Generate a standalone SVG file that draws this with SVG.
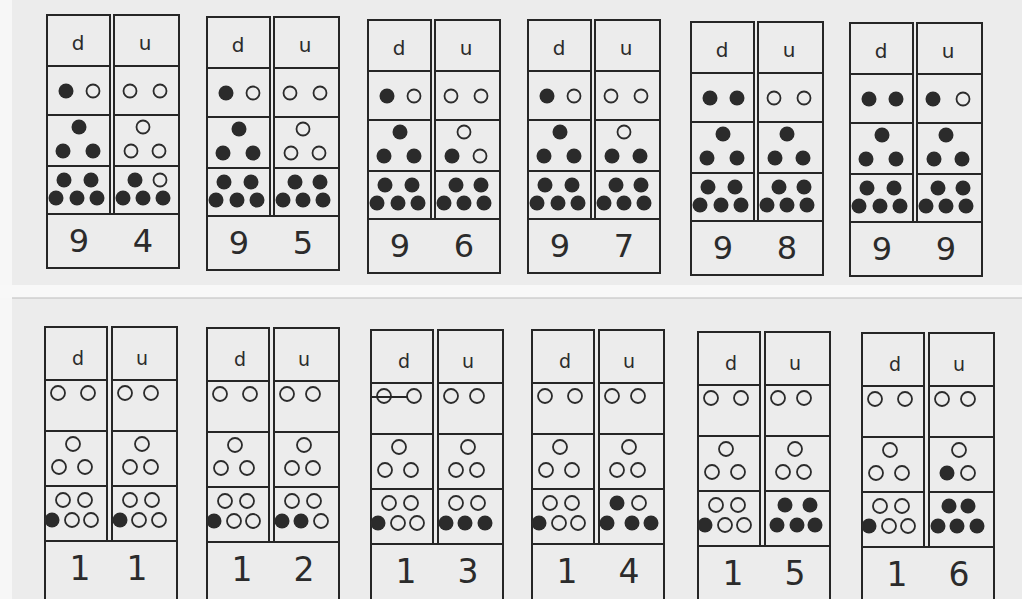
<svg xmlns="http://www.w3.org/2000/svg" width="1022" height="599" viewBox="0 0 1022 599">
<style>
.bg{fill:#ececec}
.ln{fill:none;stroke:#262626;stroke-width:2}
.f{fill:#2b2b2b}
.o{fill:none;stroke:#2b2b2b;stroke-width:1.8}
.h{font-family:"DejaVu Sans","Liberation Sans",sans-serif;fill:#2b2b2b;text-anchor:middle}
.ht{font-size:20px}
.dt{font-size:32px}
.hb{font-size:19px}
.db{font-size:33px}
</style>
<defs>
<g id="topFrame">
<rect class="ln" x="0" y="0" width="63" height="199"/>
<rect class="ln" x="67" y="0" width="65" height="199"/>
<path class="ln" d="M0 51H63M0 100H63M0 151H63M67 51H132M67 100H132M67 151H132"/>
<rect class="ln" x="0" y="199" width="132" height="54"/>
<text class="h ht" x="31" y="35">d</text>
<text class="h ht" x="98" y="35">u</text>
</g>
<g id="botFrame">
<rect class="ln" x="0" y="0" width="62" height="214"/>
<rect class="ln" x="67" y="0" width="65" height="214"/>
<path class="ln" d="M0 53H62M0 104H62M0 159H62M67 53H132M67 104H132M67 159H132"/>
<rect class="ln" x="0" y="214" width="132" height="60"/>
<text class="h hb" x="33" y="38">d</text>
<text class="h hb" x="97" y="38">u</text>
</g>
<!-- top dot sets -->
<g id="tD9">
<circle class="f" cx="19" cy="76" r="7.5"/><circle class="o" cx="46" cy="76" r="6.5"/>
<circle class="f" cx="32" cy="112" r="7.5"/><circle class="f" cx="16" cy="136" r="7.5"/><circle class="f" cx="46" cy="136" r="7.5"/>
<circle class="f" cx="17" cy="165" r="7.5"/><circle class="f" cx="44" cy="165" r="7.5"/><circle class="f" cx="9" cy="183" r="7.5"/><circle class="f" cx="30" cy="183" r="7.5"/><circle class="f" cx="50" cy="183" r="7.5"/>
</g>
<g id="tD10">
<circle class="f" cx="19" cy="76" r="7.5"/><circle class="f" cx="46" cy="76" r="7.5"/>
<circle class="f" cx="32" cy="112" r="7.5"/><circle class="f" cx="16" cy="136" r="7.5"/><circle class="f" cx="46" cy="136" r="7.5"/>
<circle class="f" cx="17" cy="165" r="7.5"/><circle class="f" cx="44" cy="165" r="7.5"/><circle class="f" cx="9" cy="183" r="7.5"/><circle class="f" cx="30" cy="183" r="7.5"/><circle class="f" cx="50" cy="183" r="7.5"/>
</g>
<!-- bottom tens: 1 -->
<g id="bD1">
<circle class="o" cx="13" cy="66" r="7"/><circle class="o" cx="43" cy="66" r="7"/>
<circle class="o" cx="28" cy="117" r="7"/><circle class="o" cx="14" cy="140" r="7"/><circle class="o" cx="40" cy="140" r="7"/>
<circle class="o" cx="18" cy="173" r="7"/><circle class="o" cx="40" cy="173" r="7"/><circle class="f" cx="7" cy="193" r="7.5"/><circle class="o" cx="27" cy="193" r="7"/><circle class="o" cx="46" cy="193" r="7"/>
</g>
</defs>
<rect class="bg" x="0" y="0" width="1022" height="599"/>
<rect x="0" y="0" width="12" height="599" fill="#f7f7f7"/>
<rect x="0" y="285" width="1022" height="13" fill="#f8f8f8"/>
<path d="M12 298H1022" stroke="#bdbdbd" stroke-width="1"/>

<g id="t94" transform="translate(47,15)">
<use href="#topFrame"/><use href="#tD9"/>
<circle class="o" cx="83" cy="76" r="6.5"/><circle class="o" cx="113" cy="76" r="6.5"/>
<circle class="o" cx="96" cy="112" r="6.5"/><circle class="o" cx="84" cy="136" r="6.5"/><circle class="o" cx="112" cy="136" r="6.5"/>
<circle class="f" cx="88" cy="165" r="7.5"/><circle class="o" cx="113" cy="165" r="6.5"/><circle class="f" cx="76" cy="183" r="7.5"/><circle class="f" cx="96" cy="183" r="7.5"/><circle class="f" cx="116" cy="183" r="7.5"/>
<text class="h dt" x="32" y="237">9</text><text class="h dt" x="96" y="237">4</text>
</g>

<g id="t95" transform="translate(207,17)">
<use href="#topFrame"/><use href="#tD9"/>
<circle class="o" cx="83" cy="76" r="6.5"/><circle class="o" cx="113" cy="76" r="6.5"/>
<circle class="o" cx="96" cy="112" r="6.5"/><circle class="o" cx="84" cy="136" r="6.5"/><circle class="o" cx="112" cy="136" r="6.5"/>
<circle class="f" cx="88" cy="165" r="7.5"/><circle class="f" cx="113" cy="165" r="7.5"/><circle class="f" cx="76" cy="183" r="7.5"/><circle class="f" cx="96" cy="183" r="7.5"/><circle class="f" cx="116" cy="183" r="7.5"/>
<text class="h dt" x="32" y="237">9</text><text class="h dt" x="96" y="237">5</text>
</g>

<g id="t96" transform="translate(368,20)">
<use href="#topFrame"/><use href="#tD9"/>
<circle class="o" cx="83" cy="76" r="6.5"/><circle class="o" cx="113" cy="76" r="6.5"/>
<circle class="o" cx="96" cy="112" r="6.5"/><circle class="f" cx="84" cy="136" r="7.5"/><circle class="o" cx="112" cy="136" r="6.5"/>
<circle class="f" cx="88" cy="165" r="7.5"/><circle class="f" cx="113" cy="165" r="7.5"/><circle class="f" cx="76" cy="183" r="7.5"/><circle class="f" cx="96" cy="183" r="7.5"/><circle class="f" cx="116" cy="183" r="7.5"/>
<text class="h dt" x="32" y="237">9</text><text class="h dt" x="96" y="237">6</text>
</g>

<g id="t97" transform="translate(528,20)">
<use href="#topFrame"/><use href="#tD9"/>
<circle class="o" cx="83" cy="76" r="6.5"/><circle class="o" cx="113" cy="76" r="6.5"/>
<circle class="o" cx="96" cy="112" r="6.5"/><circle class="f" cx="84" cy="136" r="7.5"/><circle class="f" cx="112" cy="136" r="7.5"/>
<circle class="f" cx="88" cy="165" r="7.5"/><circle class="f" cx="113" cy="165" r="7.5"/><circle class="f" cx="76" cy="183" r="7.5"/><circle class="f" cx="96" cy="183" r="7.5"/><circle class="f" cx="116" cy="183" r="7.5"/>
<text class="h dt" x="32" y="237">9</text><text class="h dt" x="96" y="237">7</text>
</g>

<g id="t98" transform="translate(691,22)">
<use href="#topFrame"/><use href="#tD10"/>
<circle class="o" cx="83" cy="76" r="6.5"/><circle class="o" cx="113" cy="76" r="6.5"/>
<circle class="f" cx="96" cy="112" r="7.5"/><circle class="f" cx="84" cy="136" r="7.5"/><circle class="f" cx="112" cy="136" r="7.5"/>
<circle class="f" cx="88" cy="165" r="7.5"/><circle class="f" cx="113" cy="165" r="7.5"/><circle class="f" cx="76" cy="183" r="7.5"/><circle class="f" cx="96" cy="183" r="7.5"/><circle class="f" cx="116" cy="183" r="7.5"/>
<text class="h dt" x="32" y="237">9</text><text class="h dt" x="96" y="237">8</text>
</g>

<g id="t99" transform="translate(850,23)">
<use href="#topFrame"/><use href="#tD10"/>
<circle class="f" cx="83" cy="76" r="7.5"/><circle class="o" cx="113" cy="76" r="6.5"/>
<circle class="f" cx="96" cy="112" r="7.5"/><circle class="f" cx="84" cy="136" r="7.5"/><circle class="f" cx="112" cy="136" r="7.5"/>
<circle class="f" cx="88" cy="165" r="7.5"/><circle class="f" cx="113" cy="165" r="7.5"/><circle class="f" cx="76" cy="183" r="7.5"/><circle class="f" cx="96" cy="183" r="7.5"/><circle class="f" cx="116" cy="183" r="7.5"/>
<text class="h dt" x="32" y="237">9</text><text class="h dt" x="96" y="237">9</text>
</g>

<g id="t11" transform="translate(45,327)">
<use href="#botFrame"/><use href="#bD1"/>
<circle class="o" cx="80" cy="66" r="7"/><circle class="o" cx="106" cy="66" r="7"/>
<circle class="o" cx="97" cy="117" r="7"/><circle class="o" cx="85" cy="140" r="7"/><circle class="o" cx="106" cy="140" r="7"/>
<circle class="o" cx="85" cy="173" r="7"/><circle class="o" cx="107" cy="173" r="7"/><circle class="f" cx="75" cy="193" r="7.5"/><circle class="o" cx="94" cy="193" r="7"/><circle class="o" cx="114" cy="193" r="7"/>
<text class="h db" x="35" y="253">1</text><text class="h db" x="92" y="253">1</text>
</g>

<g id="t12" transform="translate(207,328)">
<use href="#botFrame"/><use href="#bD1"/>
<circle class="o" cx="80" cy="66" r="7"/><circle class="o" cx="106" cy="66" r="7"/>
<circle class="o" cx="97" cy="117" r="7"/><circle class="o" cx="85" cy="140" r="7"/><circle class="o" cx="106" cy="140" r="7"/>
<circle class="o" cx="85" cy="173" r="7"/><circle class="o" cx="107" cy="173" r="7"/><circle class="f" cx="75" cy="193" r="7.5"/><circle class="f" cx="94" cy="193" r="7.5"/><circle class="o" cx="114" cy="193" r="7"/>
<text class="h db" x="35" y="253">1</text><text class="h db" x="97" y="253">2</text>
</g>

<g id="t13" transform="translate(371,330)">
<use href="#botFrame"/><use href="#bD1"/>
<path class="ln" d="M0 67H37" stroke-width="1.5"/>
<circle class="o" cx="80" cy="66" r="7"/><circle class="o" cx="106" cy="66" r="7"/>
<circle class="o" cx="97" cy="117" r="7"/><circle class="o" cx="85" cy="140" r="7"/><circle class="o" cx="106" cy="140" r="7"/>
<circle class="o" cx="85" cy="173" r="7"/><circle class="o" cx="107" cy="173" r="7"/><circle class="f" cx="75" cy="193" r="7.5"/><circle class="f" cx="94" cy="193" r="7.5"/><circle class="f" cx="114" cy="193" r="7.5"/>
<text class="h db" x="35" y="253">1</text><text class="h db" x="97" y="253">3</text>
</g>

<g id="t14" transform="translate(532,330)">
<use href="#botFrame"/><use href="#bD1"/>
<circle class="o" cx="80" cy="66" r="7"/><circle class="o" cx="106" cy="66" r="7"/>
<circle class="o" cx="97" cy="117" r="7"/><circle class="o" cx="85" cy="140" r="7"/><circle class="o" cx="106" cy="140" r="7"/>
<circle class="f" cx="85" cy="173" r="7.5"/><circle class="o" cx="107" cy="173" r="7"/><circle class="f" cx="75" cy="193" r="7.5"/><circle class="f" cx="100" cy="193" r="7.5"/><circle class="f" cx="119" cy="193" r="7.5"/>
<text class="h db" x="35" y="253">1</text><text class="h db" x="97" y="253">4</text>
</g>

<g id="t15" transform="translate(698,332)">
<use href="#botFrame"/><use href="#bD1"/>
<circle class="o" cx="80" cy="66" r="7"/><circle class="o" cx="106" cy="66" r="7"/>
<circle class="o" cx="97" cy="117" r="7"/><circle class="o" cx="85" cy="140" r="7"/><circle class="o" cx="106" cy="140" r="7"/>
<circle class="f" cx="87" cy="173" r="7.5"/><circle class="f" cx="112" cy="173" r="7.5"/><circle class="f" cx="79" cy="193" r="7.5"/><circle class="f" cx="99" cy="193" r="7.5"/><circle class="f" cx="117" cy="193" r="7.5"/>
<text class="h db" x="35" y="253">1</text><text class="h db" x="97" y="253">5</text>
</g>

<g id="t16" transform="translate(862,333)">
<use href="#botFrame"/><use href="#bD1"/>
<circle class="o" cx="80" cy="66" r="7"/><circle class="o" cx="106" cy="66" r="7"/>
<circle class="o" cx="97" cy="117" r="7"/><circle class="f" cx="85" cy="140" r="7.5"/><circle class="o" cx="106" cy="140" r="7"/>
<circle class="f" cx="87" cy="173" r="7.5"/><circle class="f" cx="106" cy="173" r="7.5"/><circle class="f" cx="76" cy="193" r="7.5"/><circle class="f" cx="95" cy="193" r="7.5"/><circle class="f" cx="115" cy="193" r="7.5"/>
<text class="h db" x="35" y="253">1</text><text class="h db" x="97" y="253">6</text>
</g>
</svg>
